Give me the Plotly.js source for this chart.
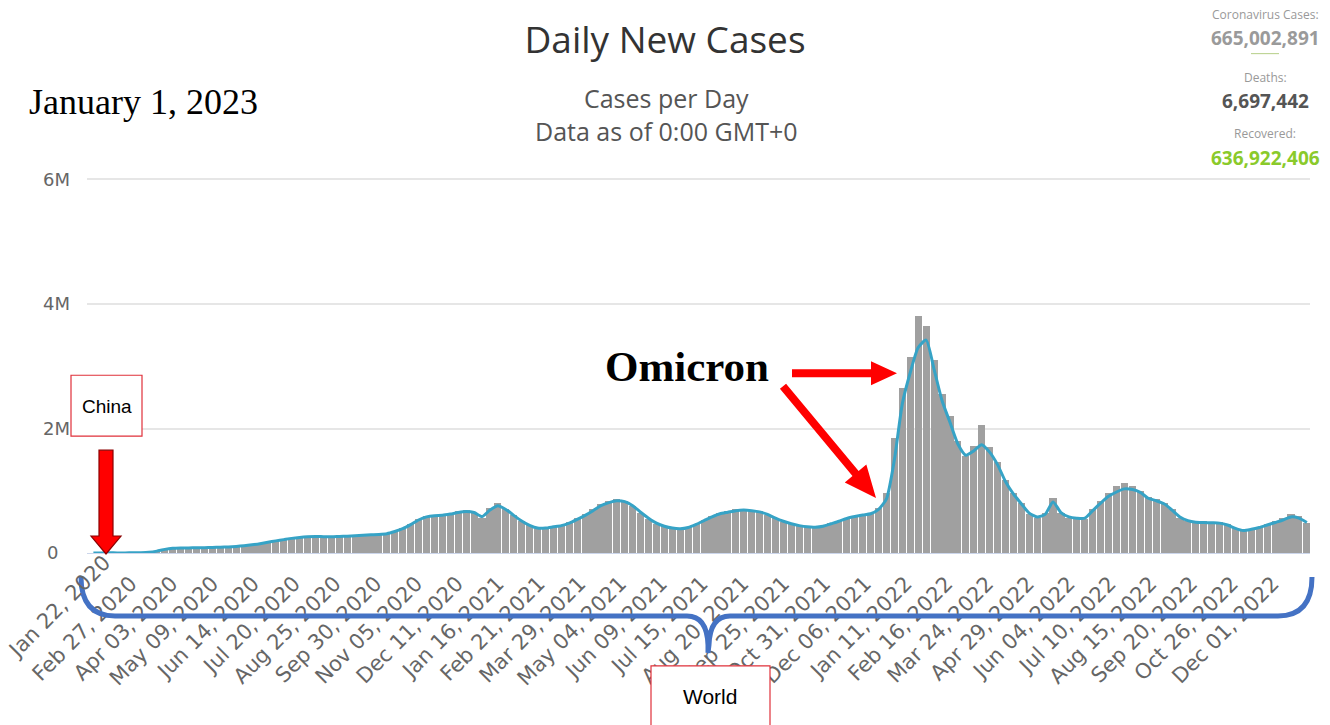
<!DOCTYPE html>
<html>
<head>
<meta charset="utf-8">
<script src="https://cdn.plot.ly/plotly-3.0.1.min.js"></script>
<style>
html,body{margin:0;padding:0;background:#fff;}
#chart{width:1330px;height:725px;}
</style>
</head>
<body>
<div id="chart"></div>
<script>
// ---------- DATA ----------
const startDate = '2020-01-22';
// weekly-sampled daily new cases (thousands), week i centred on startDate + 7*i + 3 days
const barsK = [
  1,2,3,2,2,3,6,14,34,62,
  79,84,80,86,85,94,96,101,110,121,
  136,154,178,200,222,241,256,263,270,259,
  264,271,276,283,290,297,302,318,352,402,
  468,548,592,612,598,640,670,685,640,560,
  720,800,700,612,515,445,392,410,428,448,
  495,556,622,700,785,835,875,840,755,645,
  552,472,428,392,385,420,472,532,598,648,
  668,702,712,692,672,618,558,502,468,436,
  416,410,440,478,522,568,594,618,642,720,
  960,1850,2650,3150,3800,3650,3100,2550,2200,1800,
  1560,1720,2050,1700,1460,1180,960,800,620,560,
  640,880,650,560,540,545,700,840,960,1080,
  1120,1070,990,900,860,810,700,560,510,490,
  510,490,500,460,400,350,380,420,470,520,
  560,620,590,480
];
// 7-day moving average (thousands), same weeks
const avgK = [
  1,2,3,2,2,3,5,12,30,58,
  75,80,82,83,86,90,93,98,106,117,
  132,150,172,195,215,235,250,260,265,262,
  260,265,270,276,285,292,298,310,345,390,
  455,530,580,600,605,625,650,665,650,585,
  690,760,700,605,515,445,400,400,420,440,
  480,540,605,680,760,810,840,825,760,655,
  560,480,430,400,390,410,460,520,580,630,
  655,680,690,680,660,620,560,510,470,440,
  420,415,430,470,510,555,585,610,630,700,
  870,1500,2400,2900,3300,3420,2950,2450,2100,1750,
  1570,1640,1740,1620,1420,1150,950,790,640,580,
  620,820,650,580,560,560,680,800,910,980,
  1030,1020,975,880,840,790,690,580,520,495,
  490,485,480,450,395,360,380,410,450,490,
  530,580,560,490
];
const tickDates = ['2020-01-22','2020-02-27','2020-04-03','2020-05-09','2020-06-14','2020-07-20','2020-08-25','2020-09-30','2020-11-05','2020-12-11',
  '2021-01-16','2021-02-21','2021-03-29','2021-05-04','2021-06-09','2021-07-15','2021-08-20','2021-09-25','2021-10-31','2021-12-06',
  '2022-01-11','2022-02-16','2022-03-24','2022-04-29','2022-06-04','2022-07-10','2022-08-15','2022-09-20','2022-10-26','2022-12-01'];
const tickLabels = ['Jan 22, 2020','Feb 27, 2020','Apr 03, 2020','May 09, 2020','Jun 14, 2020','Jul 20, 2020','Aug 25, 2020','Sep 30, 2020','Nov 05, 2020','Dec 11, 2020',
  'Jan 16, 2021','Feb 21, 2021','Mar 29, 2021','May 04, 2021','Jun 09, 2021','Jul 15, 2021','Aug 20, 2021','Sep 25, 2021','Oct 31, 2021','Dec 06, 2021',
  'Jan 11, 2022','Feb 16, 2022','Mar 24, 2022','Apr 29, 2022','Jun 04, 2022','Jul 10, 2022','Aug 15, 2022','Sep 20, 2022','Oct 26, 2022','Dec 01, 2022'];
const yTickVals = [0, 2000000, 4000000, 6000000];
const yTickLabels = ['0', '2M', '4M', '6M'];
const statLabels = ['Coronavirus Cases:', 'Deaths:', 'Recovered:'];
const statValues = ['665,002,891', '6,697,442', '636,922,406'];

// ---------- GEOMETRY ----------
const W = 1330, H = 725, ML = 87, MR = 20, MB = 172;
const Y0 = H - MB;                 // pixel of 0
const PX_PER_M = 374 / 6;          // pixels per million
const YTOP = 6.04;                 // axis top (millions), a bit above 6M so the 6M grid line shows
const PH = YTOP * PX_PER_M;
const MT = H - MB - PH;
const PW = W - ML - MR;
const px = x => (x - ML) / PW;
const py = y => (Y0 - y) / PH;
const DAY = 86400000;
const t0 = Date.parse(startDate + 'T00:00:00Z');
const iso = ms => new Date(ms).toISOString().replace('T', ' ').replace('Z', '');
const weekX = barsK.map((_, i) => iso(t0 + (7 * i + 3) * DAY));
const xRange = [iso(t0 - 2.65 * DAY), iso(t0 + 1076.8 * DAY)];
// first label is justified inside the chart (drawn separately), the others sit on their ticks
const axisTickText = tickLabels.map((t, i) => i === 0 ? '' : t);
// the "0" label is left-aligned with the others in the original
const yAxisText = yTickLabels.map(t => t.length === 1 ? t + '\u00a0\u00a0' : t);

function toPaper(path) {
  return path.replace(/(-?\d+\.?\d*),(-?\d+\.?\d*)/g, (m, a, b) => px(+a) + ',' + py(+b));
}
function arrowPath(x1, y1, x2, y2, sw, hw, hl) {
  const dx = x2 - x1, dy = y2 - y1, len = Math.hypot(dx, dy);
  const ux = dx / len, uy = dy / len, nx = -uy, ny = ux;
  const bx = x2 - ux * hl, by = y2 - uy * hl;
  const pts = [
    [x1 + nx * sw / 2, y1 + ny * sw / 2], [bx + nx * sw / 2, by + ny * sw / 2],
    [bx + nx * hw / 2, by + ny * hw / 2], [x2, y2],
    [bx - nx * hw / 2, by - ny * hw / 2], [bx - nx * sw / 2, by - ny * sw / 2],
    [x1 - nx * sw / 2, y1 - ny * sw / 2]];
  return 'M' + pts.map(p => px(p[0]) + ',' + py(p[1])).join('L') + 'Z';
}

const traces = [
  {
    type: 'bar', x: weekX, y: barsK.map(v => v * 1000),
    width: 6.3 * DAY, marker: { color: '#a0a0a0', line: { width: 0 } },
    hoverinfo: 'skip', name: 'Daily Cases'
  },
  {
    type: 'scatter', mode: 'lines', x: weekX, y: avgK.map(v => v * 1000),
    line: { color: '#36a3c6', width: 3, shape: 'spline', smoothing: 0.6 },
    hoverinfo: 'skip', name: '7-day moving average'
  }
];

function ann(text, x, y, o) {
  return Object.assign({
    text: text, x: px(x), y: py(y), xref: 'paper', yref: 'paper',
    xanchor: 'center', yanchor: 'middle', showarrow: false,
    font: { family: 'Open Sans, sans-serif', size: 14, color: '#333' }
  }, o || {});
}

const statX = 1265;
const annotations = [
  ann(tickLabels[0], 59, 607, { textangle: -45, font: { family: 'DejaVu Sans, sans-serif', size: 21, color: '#666' } }),
  ann('Cases per Day<br>Data as of 0:00 GMT+0', 666, 114, { font: { family: 'Open Sans, sans-serif', size: 25, color: '#555' } }),
  ann('January 1, 2023', 27, 101, { xanchor: 'left', font: { family: 'Liberation Serif, serif', size: 36, color: '#000' } }),
  ann(statLabels[0], statX, 14, { font: { family: 'Open Sans, sans-serif', size: 12, color: '#999' } }),
  ann(statValues[0], statX, 37, { font: { family: 'Open Sans, sans-serif', size: 19, color: '#9a9a9a', weight: 'bold' } }),
  ann(statLabels[1], statX, 77, { font: { family: 'Open Sans, sans-serif', size: 12, color: '#999' } }),
  ann(statValues[1], statX, 100, { font: { family: 'Open Sans, sans-serif', size: 19, color: '#555', weight: 'bold' } }),
  ann(statLabels[2], statX, 133, { font: { family: 'Open Sans, sans-serif', size: 12, color: '#999' } }),
  ann(statValues[2], statX, 157, { font: { family: 'Open Sans, sans-serif', size: 19, color: '#8aca2b', weight: 'bold' } }),
  ann('Omicron', 687, 366, { font: { family: 'Liberation Serif, serif', size: 43, color: '#000', weight: 'bold' } }),
  ann('China', 107, 406, { font: { family: 'Liberation Sans, sans-serif', size: 19, color: '#000' } }),
  ann('World', 710, 697, { font: { family: 'Liberation Sans, sans-serif', size: 21, color: '#000' } })
];

const P = { xref: 'paper', yref: 'paper', layer: 'above' };
const shapes = [
  Object.assign({ type: 'path', path: toPaper('M1251,53 L1279,53'), line: { color: '#b5cf86', width: 1 } }, P),
  // brace
  Object.assign({ type: 'path',
    path: toPaper('M81,577 Q81,616 115,616 L687,616 Q707,616 708,645 L708,653 L709,645 Q710,616 730,616 L1278,616 Q1312,616 1312,577'),
    line: { color: '#4472c4', width: 5 } }, P),
  // boxes
  Object.assign({ type: 'rect', x0: px(71), x1: px(142), y0: py(436), y1: py(375), fillcolor: '#fff', line: { color: '#e0303a', width: 1.2 } }, P),
  Object.assign({ type: 'rect', x0: px(651), x1: px(770), y0: py(740), y1: py(666), fillcolor: '#fff', line: { color: '#e0303a', width: 1.2 } }, P),
  // arrows
  Object.assign({ type: 'path', path: arrowPath(106, 450, 106, 554, 14, 30, 18), fillcolor: '#ff0000', line: { color: '#8b0000', width: 1.2 } }, P),
  Object.assign({ type: 'path', path: arrowPath(792, 373, 897, 373, 8, 24, 26), fillcolor: '#ff0000', line: { width: 0 } }, P),
  Object.assign({ type: 'path', path: arrowPath(783, 386, 876, 498, 8, 28, 32), fillcolor: '#ff0000', line: { width: 0 } }, P)
];

const layout = {
  width: W, height: H,
  margin: { l: ML, r: MR, t: MT, b: MB, pad: 0 },
  paper_bgcolor: '#fff', plot_bgcolor: '#fff',
  showlegend: false,
  title: { text: 'Daily New Cases', xref: 'container', x: 0.5, xanchor: 'center', yref: 'container', y: 1 - 40 / H, yanchor: 'middle',
    font: { family: 'Open Sans, sans-serif', size: 37, color: '#333' } },
  xaxis: {
    type: 'date', range: xRange, tickmode: 'array', tickvals: tickDates, ticktext: axisTickText,
    tickangle: -45, tickfont: { family: 'DejaVu Sans, sans-serif', size: 21, color: '#666' },
    ticklabeloverflow: 'allow', ticklabelstandoff: 9,
    showgrid: false, zeroline: false, showline: true, linecolor: '#ccd6eb', linewidth: 1, ticks: '',
    fixedrange: true
  },
  yaxis: {
    range: [0, YTOP * 1e6], tickmode: 'array', tickvals: yTickVals, ticktext: yAxisText,
    tickfont: { family: 'DejaVu Sans, sans-serif', size: 18, color: '#666' },
    showgrid: true, gridcolor: '#e6e6e6', gridwidth: 2, zeroline: false, showline: false, ticks: '',
    ticklabelstandoff: 16, fixedrange: true
  },
  bargap: 0,
  annotations: annotations,
  shapes: shapes
};

Plotly.newPlot('chart', traces, layout, { displayModeBar: false, staticPlot: true });
</script>
</body>
</html>
